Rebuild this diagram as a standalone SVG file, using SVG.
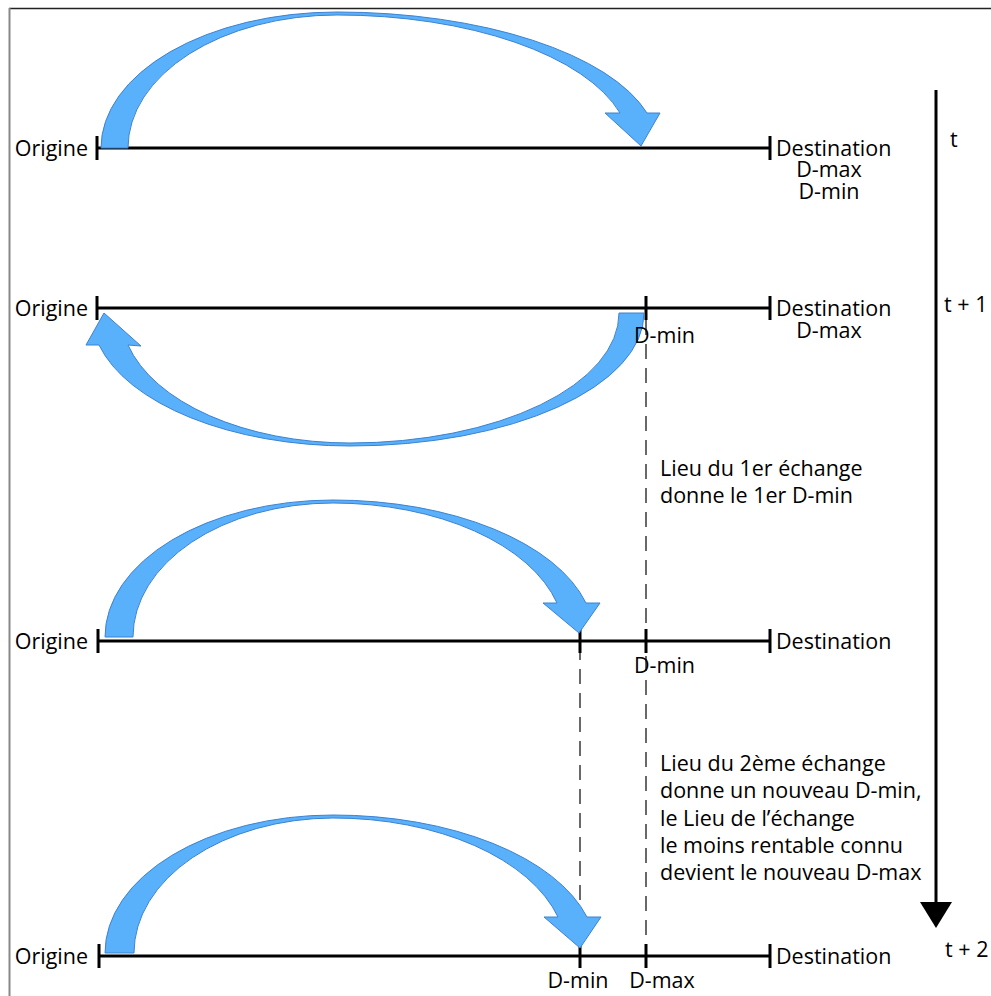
<svg xmlns="http://www.w3.org/2000/svg" width="991" height="996" viewBox="0 0 991 996">
<style>
  .t{font-family:"Open Sans","Noto Sans",sans-serif;font-size:21.5px;fill:#000}
  .m{text-anchor:middle}
  .e{text-anchor:end}
  .ax{stroke:#000;stroke-width:3;fill:none}
  .dash{stroke:#444;stroke-width:1.6;stroke-dasharray:15 9;fill:none}
  .arr{fill:#59b0fb;stroke:#3d82d0;stroke-width:1}
</style>
<rect x="0" y="0" width="991" height="996" fill="#fff"/>
<g id="frame">
  <line x1="9" y1="8.5" x2="991" y2="8.5" stroke="#222" stroke-width="1.5"/>
  <line x1="9.5" y1="8" x2="9.5" y2="996" stroke="#888" stroke-width="2"/>
</g>
<g id="connectors">
  <line class="dash" x1="646" y1="320" x2="646" y2="956"/>
  <line class="dash" x1="580" y1="645" x2="580" y2="956"/>
  <line x1="936" y1="90" x2="936" y2="903" stroke="#000" stroke-width="3"/>
  <polygon points="920,902 952,902 936,928" fill="#000"/>
</g>
<g id="row1">
  <line class="ax" x1="97" y1="148" x2="770" y2="148"/>
  <line class="ax" x1="97" y1="136" x2="97" y2="160"/>
  <line class="ax" x1="770" y1="136" x2="770" y2="160"/>
  <path class="arr" d="M101,148 A236 136 0 0 1 337,12 A321 136 0 0 1 647,113 L660,113 L641,146 L605,113 L620,113 A293 133 0 0 0 337,15 A209 133 0 0 0 128,148 Z"/>
  <text class="t e" x="88" y="156">Origine</text>
  <text class="t" x="776" y="156">Destination</text>
  <text class="t m" x="829" y="177">D-max</text>
  <text class="t m" x="829" y="199">D-min</text>
  <text class="t" x="950" y="147">t</text>
</g>
<g id="row2">
  <line class="ax" x1="97" y1="308" x2="770" y2="308"/>
  <line class="ax" x1="97" y1="296" x2="97" y2="320"/>
  <line class="ax" x1="646" y1="296" x2="646" y2="320"/>
  <line class="ax" x1="770" y1="296" x2="770" y2="320"/>
  <path class="arr" d="M644,313 A294 133 0 0 1 350,446 A259 133 0 0 1 99,345 L86,345 L104,313 L141,346 L128,345 A229 130 0 0 0 350,443 A269 130 0 0 0 619,313 Z"/>
  <text class="t e" x="88" y="316">Origine</text>
  <text class="t" x="776" y="316">Destination</text>
  <text class="t m" x="829" y="338">D-max</text>
  <text class="t" x="634" y="343">D-min</text>
  <text class="t" x="944" y="312">t + 1</text>
</g>
<g id="note1">
  <text class="t" x="660" y="476">Lieu du 1er échange</text>
  <text class="t" x="660" y="503">donne le 1er D-min</text>
</g>
<g id="row3">
  <line class="ax" x1="98" y1="641" x2="770" y2="641"/>
  <line class="ax" x1="98" y1="629" x2="98" y2="653"/>
  <line class="ax" x1="580" y1="629" x2="580" y2="653"/>
  <line class="ax" x1="646" y1="629" x2="646" y2="653"/>
  <line class="ax" x1="770" y1="629" x2="770" y2="653"/>
  <path class="arr" d="M105,637 A228 137 0 0 1 333,500 A261 137 0 0 1 586,603 L600,603 L579,633 L543,603 L557,603 A232 134 0 0 0 333,503 A200 134 0 0 0 133,637 Z"/>
  <text class="t e" x="88" y="649">Origine</text>
  <text class="t" x="776" y="649">Destination</text>
  <text class="t" x="634" y="673">D-min</text>
</g>
<g id="note2">
  <text class="t" x="660" y="771">Lieu du 2ème échange</text>
  <text class="t" x="660" y="798">donne un nouveau D-min,</text>
  <text class="t" x="660" y="826">le Lieu de l’échange</text>
  <text class="t" x="660" y="853">le moins rentable connu</text>
  <text class="t" x="660" y="880">devient le nouveau D-max</text>
</g>
<g id="row4">
  <line class="ax" x1="99" y1="956" x2="770" y2="956"/>
  <line class="ax" x1="99" y1="944" x2="99" y2="968"/>
  <line class="ax" x1="580" y1="944" x2="580" y2="968"/>
  <line class="ax" x1="646" y1="944" x2="646" y2="968"/>
  <line class="ax" x1="770" y1="944" x2="770" y2="968"/>
  <path class="arr" d="M105,953 A228 138 0 0 1 333,815 A263 138 0 0 1 587,917 L601,917 L580,948 L544,917 L558,917 A233 135 0 0 0 333,818 A200 135 0 0 0 134,953 Z"/>
  <text class="t e" x="88" y="964">Origine</text>
  <text class="t" x="776" y="964">Destination</text>
  <text class="t m" x="578" y="988">D-min</text>
  <text class="t m" x="662" y="988">D-max</text>
  <text class="t" x="945" y="957">t + 2</text>
</g>
</svg>
